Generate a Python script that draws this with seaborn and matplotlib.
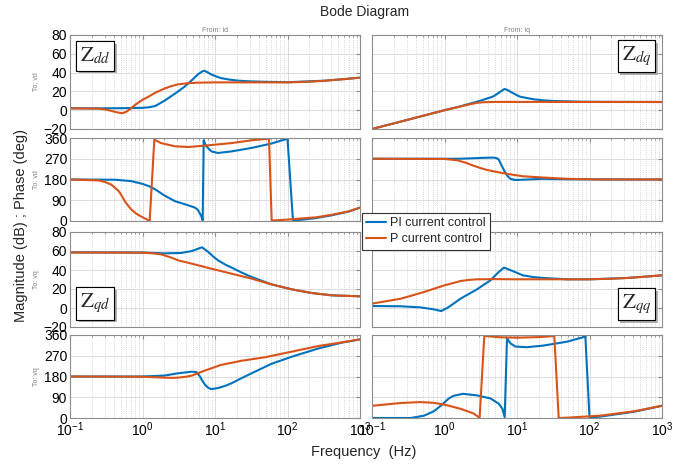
import numpy as np
import pandas as pd
import matplotlib
matplotlib.use('Agg')
import matplotlib.pyplot as plt
import matplotlib.patheffects as pe
from matplotlib.ticker import LogLocator, NullFormatter, FixedLocator
from matplotlib.lines import Line2D
import seaborn as sns

# ---------------- data ----------------
series_names = ["PI current control", "P current control"]
panel_labels = ["Z_{dd}", "Z_{dq}", "Z_{qd}", "Z_{qq}"]
from_labels = ["From: id", "From: iq"]
to_labels = ["To: vd", "To: vd", "To: vq", "To: vq"]
mag_ticks = [-20, 0, 20, 40, 60, 80]
phase_ticks = [0, 90, 180, 270, 360]

# Zdd magnitude (dB)
f_dd_mag_pi = [0.1, 0.3, 0.6, 1.0, 1.25, 1.5, 2.0, 2.5, 3.1, 3.8, 4.5, 5.9, 6.6, 7.1, 7.8, 8.9, 10.5,
               12.3, 16, 21, 30, 49, 100, 330, 1000]
dd_mag_pi = [2, 2, 2.2, 2.5, 3.2, 4.5, 10, 15, 20, 25, 30, 38.5, 41, 42, 40.5, 38, 35.8,
             34, 32.5, 31.4, 30.7, 30.2, 29.8, 31.4, 34.6]
f_dd_mag_p = [0.1, 0.25, 0.32, 0.42, 0.52, 0.6, 0.67, 0.8, 1.0, 1.25, 1.5, 2.0, 2.5, 3.1, 4.2, 5.9,
              10, 100, 200, 330, 600, 1000]
dd_mag_p = [2, 1.6, 0.5, -1.8, -3.3, -1.6, 1, 6, 11, 15, 18.6, 23, 25.6, 27.5, 28.7, 29.3,
            29.6, 29.6, 30.3, 31.4, 33, 34.6]

# Zdd phase (deg)
f_dd_ph_pi = [0.1, 0.42, 0.7, 1.0, 1.25, 1.5, 2.0, 2.8, 3.9, 5.3, 5.8, 6.1, 6.5, 6.76, 6.98, 7.3, 7.6,
              8.9, 11, 17, 32, 60, 100, 119, 150, 240, 410, 700, 1000]
dd_ph_pi = [180, 179, 173, 161, 150, 137, 111, 86, 72, 58, 48, 36, 20, 3, 350, 334, 324,
            302, 295, 302, 317, 336, 357, 1, 5, 12, 25, 41, 58]
f_dd_ph_p = [0.1, 0.25, 0.3, 0.37, 0.47, 0.52, 0.57, 0.64, 0.7, 0.81, 0.93, 1.08, 1.256, 1.456, 1.8,
             2.8, 4.3, 7.3, 17, 32, 55.6, 60.5, 100, 141, 250, 407, 700, 1000]
dd_ph_p = [180, 176, 170, 158, 130, 108, 86, 65, 50, 33, 22, 11, 0, 353, 338,
           324, 321, 327, 338, 350, 357, 2, 6, 10, 16, 27, 42, 58]

# Zdq magnitude (dB)
f_dq_mag_pi = [0.1, 0.3, 1.0, 1.6, 2.2, 2.8, 3.4, 4.2, 4.8, 5.9, 6.7, 7.4, 8.1, 9.5, 11, 14, 17, 23,
               32, 80, 1000]
dq_mag_pi = [-20, -10.5, 0, 3.8, 6.8, 9, 11, 13.3, 15, 19.7, 22.6, 21.5, 19.7, 16.8, 14.4, 12.8, 11.6,
             10.5, 9.8, 9, 8.7]
f_dq_mag_p = [0.1, 0.3, 1.0, 1.6, 2.2, 2.8, 3.5, 5, 10, 1000]
dq_mag_p = [-20, -10.5, 0, 3.6, 6.2, 7.8, 8.5, 8.8, 8.8, 8.7]

# Zdq phase (deg)
f_dq_ph_pi = [0.1, 1.5, 2.0, 3.4, 4.8, 5.3, 5.6, 6.2, 6.9, 7.5, 8.1, 9.0, 10, 13.7, 23, 49, 1000]
dq_ph_pi = [270, 270, 271, 274, 275, 272, 266, 238, 209, 193, 183, 179, 178, 180, 183, 181, 180]
f_dq_ph_p = [0.1, 1.0, 1.5, 2.0, 2.5, 3.1, 3.8, 4.8, 7.3, 12, 23, 49, 140, 1000]
dq_ph_p = [270, 269, 263.5, 252, 240, 230, 222, 215, 204.5, 194, 188.6, 183, 180, 180]

# Zqd magnitude (dB)
f_qd_mag_pi = [0.1, 1, 2, 3.4, 4.8, 5.9, 6.6, 7.3, 8.1, 9.5, 11, 14, 17, 23, 32, 60, 115, 215, 410, 1000]
qd_mag_pi = [58.5, 58.4, 57.5, 57.9, 60, 62.5, 63.9, 61.5, 58.9, 54, 50.2, 45.5, 42.5, 37.5, 32.6,
             24.9, 19.6, 15.8, 13.3, 12.3]
f_qd_mag_p = [0.1, 1, 1.4, 1.8, 2.4, 3.1, 5.9, 10, 17, 32, 60, 115, 215, 410, 1000]
qd_mag_p = [58.5, 58.2, 57.5, 56.5, 53.5, 50.2, 44.9, 40.4, 36.1, 30.9, 24.9, 19.6, 15.8, 13.3, 12.3]

# Zqd phase (deg)
f_qd_ph_pi = [0.1, 1, 2, 3.1, 4.8, 5.6, 6.2, 6.8, 7.3, 8.0, 8.9, 11, 14, 17, 23, 32, 60, 115, 270, 560, 1000]
qd_ph_pi = [180, 180, 184, 194, 201, 199, 180, 158, 144, 132, 125, 130, 140, 151, 172, 194, 235, 266,
            302, 327, 341]
f_qd_ph_p = [0.1, 1, 2, 2.6, 3.1, 4.0, 4.8, 7.3, 12, 23, 49, 115, 270, 560, 1000]
qd_ph_p = [180, 179, 175, 174, 175, 179, 184, 206, 230, 248, 263.5, 288, 312.5, 328, 341]

# Zqq magnitude (dB)
f_qq_mag_pi = [0.1, 0.25, 0.46, 0.71, 0.9, 1.09, 1.3, 1.66, 2.8, 4.3, 5.6, 6.6, 7.6, 8.9, 12, 17, 23,
               49, 100, 330, 1000]
qq_mag_pi = [2.1, 1.8, 0.7, -1.4, -3.2, 0, 4, 9.8, 19.6, 29.1, 37.9, 42.5, 40.8, 38.6, 34.4, 32.5,
             31.6, 30.2, 30.2, 31.6, 34.4]
f_qq_mag_p = [0.1, 0.25, 0.52, 1, 1.4, 1.66, 2.2, 2.8, 5, 10, 100, 200, 330, 600, 1000]
qq_mag_p = [4.6, 9.8, 16.8, 23.9, 26.8, 28.4, 29.6, 30.2, 30.4, 30.2, 30.2, 30.8, 31.6, 33, 34.4]

# Zqq phase (deg)
f_qq_ph_pi = [0.1, 0.34, 0.52, 0.71, 0.85, 1, 1.15, 1.34, 1.8, 2.8, 4.3, 5.6, 6.3, 6.76, 7.28, 8.1,
              9.5, 13.7, 23, 49, 87.7, 100, 140, 410, 1000]
qq_ph_pi = [0, 0, 10, 29, 48, 68, 85, 96.5, 105, 98, 85, 62, 40, 4, 346, 324,
            310, 307, 314, 331, 353, 2, 6, 27, 53]
f_qq_ph_p = [0.1, 0.25, 0.46, 0.7, 1, 1.66, 2.5, 3.05, 3.54, 5.9, 10, 21, 32.7, 37.6, 49, 140, 410, 1000]
qq_ph_p = [53, 65, 69, 66, 58, 40, 20, 1, 356, 350, 348.5, 351, 356, 0, 1.4, 10, 29, 53]

# ---------------- style ----------------
sns.set_style('white')
plt.rcParams['font.family'] = ['Liberation Sans', 'DejaVu Sans']
plt.rcParams['mathtext.fontset'] = 'stix'

blue = '#0072BD'
orange = '#D95319'
palette = {series_names[0]: blue, series_names[1]: orange}
frame = '#8c8c8c'

W, H = 687, 466
fig = plt.figure(figsize=(W / 100, H / 100), dpi=100)


def add_px_axes(left, top, right, bottom):
    return fig.add_axes([left / W, 1 - bottom / H, (right - left) / W, (bottom - top) / H])


def make_df(f_pi, v_pi, f_p, v_p):
    d1 = pd.DataFrame({'freq': f_pi, 'value': v_pi, 'ctrl': series_names[0]})
    d2 = pd.DataFrame({'freq': f_p, 'value': v_p, 'ctrl': series_names[1]})
    return pd.concat([d1, d2], ignore_index=True)


cols = [(70, 360), (372, 662)]
rows = [(35, 129), (138, 221), (232, 327), (335, 418)]

panels = {
    (0, 0): make_df(f_dd_mag_pi, dd_mag_pi, f_dd_mag_p, dd_mag_p),
    (1, 0): make_df(f_dd_ph_pi, dd_ph_pi, f_dd_ph_p, dd_ph_p),
    (0, 1): make_df(f_dq_mag_pi, dq_mag_pi, f_dq_mag_p, dq_mag_p),
    (1, 1): make_df(f_dq_ph_pi, dq_ph_pi, f_dq_ph_p, dq_ph_p),
    (2, 0): make_df(f_qd_mag_pi, qd_mag_pi, f_qd_mag_p, qd_mag_p),
    (3, 0): make_df(f_qd_ph_pi, qd_ph_pi, f_qd_ph_p, qd_ph_p),
    (2, 1): make_df(f_qq_mag_pi, qq_mag_pi, f_qq_mag_p, qq_mag_p),
    (3, 1): make_df(f_qq_ph_pi, qq_ph_pi, f_qq_ph_p, qq_ph_p),
}

for (r, c), df in panels.items():
    top, bottom = rows[r]
    left, right = cols[c]
    ax = add_px_axes(left, top, right, bottom)
    ax.set_xscale('log')
    sns.lineplot(data=df, x='freq', y='value', hue='ctrl', palette=palette,
                 hue_order=series_names, sort=False, estimator=None,
                 lw=1.5, ax=ax, legend=False)
    ax.set_xlim(0.1, 1000)
    is_mag = (r % 2 == 0)
    if is_mag:
        ax.set_ylim(-20, 80)
        ax.yaxis.set_major_locator(FixedLocator(mag_ticks))
    else:
        ax.set_ylim(0, 360)
        ax.yaxis.set_major_locator(FixedLocator(phase_ticks))
    ax.xaxis.set_major_locator(LogLocator(base=10, numticks=10))
    ax.xaxis.set_minor_locator(LogLocator(base=10, subs=np.arange(2, 10), numticks=20))
    ax.xaxis.set_minor_formatter(NullFormatter())
    ax.set_xlabel('')
    ax.set_ylabel('')
    ax.grid(True, which='major', color='#dcdcdc', lw=0.7, ls='-')
    ax.grid(True, which='minor', axis='x', color='#c8c8c8', lw=0.6, ls=':')
    ax.set_axisbelow(True)
    for s in ax.spines.values():
        s.set_color(frame)
        s.set_linewidth(0.8)
    ax.tick_params(which='both', direction='in', top=True, right=True, color=frame,
                   labelsize=10, labelcolor='black', pad=2)
    ax.tick_params(which='major', length=3)
    ax.tick_params(which='minor', length=1.5)
    if c == 1:
        ax.tick_params(labelleft=False)
    if r != 3:
        ax.tick_params(labelbottom=False)

# Titles and labels
fig.text(365 / W, 1 - 12 / H, 'Bode Diagram', ha='center', va='center', fontsize=10)
fig.text(215 / W, 1 - 31 / H, from_labels[0], ha='center', va='center', fontsize=5, color='#808080')
fig.text(517 / W, 1 - 31 / H, from_labels[1], ha='center', va='center', fontsize=5, color='#808080')
for r, lab in enumerate(to_labels):
    yc = (rows[r][0] + rows[r][1]) / 2
    fig.text(37 / W, 1 - yc / H, lab, ha='center', va='center', rotation=90,
             fontsize=5, color='#808080')
fig.text(21 / W, 1 - 226 / H, 'Magnitude (dB) ; Phase (deg)', ha='center', va='center',
         rotation=90, fontsize=10.5)
fig.text(364 / W, 1 - 452 / H, 'Frequency  (Hz)', ha='center', va='center', fontsize=10.5)

# Z boxes
box_centers = [(95, 56), (636.5, 56), (95, 303.5), (636.5, 304)]
for lab, (bx, by) in zip(panel_labels, box_centers):
    t = fig.text(bx / W, 1 - by / H, r'$\mathrm{%s}_{%s}$' % (lab[0], lab[3:5]),
                 ha='center', va='center', fontsize=15,
                 bbox=dict(boxstyle='square,pad=0.2', fc='white', ec='black', lw=0.8))
    t.get_bbox_patch().set_path_effects([
        pe.withSimplePatchShadow(offset=(2, -2), shadow_rgbFace='#808080', alpha=0.6), pe.Normal()])

# Legend
handles = [Line2D([], [], color=blue, lw=1.5), Line2D([], [], color=orange, lw=1.5)]
leg = fig.legend(handles, series_names, loc='upper left',
                 bbox_to_anchor=(362 / W, 1 - 213 / H), fontsize=9, frameon=True,
                 fancybox=False, edgecolor='#333333', framealpha=1, borderpad=0.35,
                 handlelength=1.6, handletextpad=0.3, labelspacing=0.3, borderaxespad=0)
leg.get_frame().set_linewidth(0.8)

fig.savefig('out.png', dpi=100)
